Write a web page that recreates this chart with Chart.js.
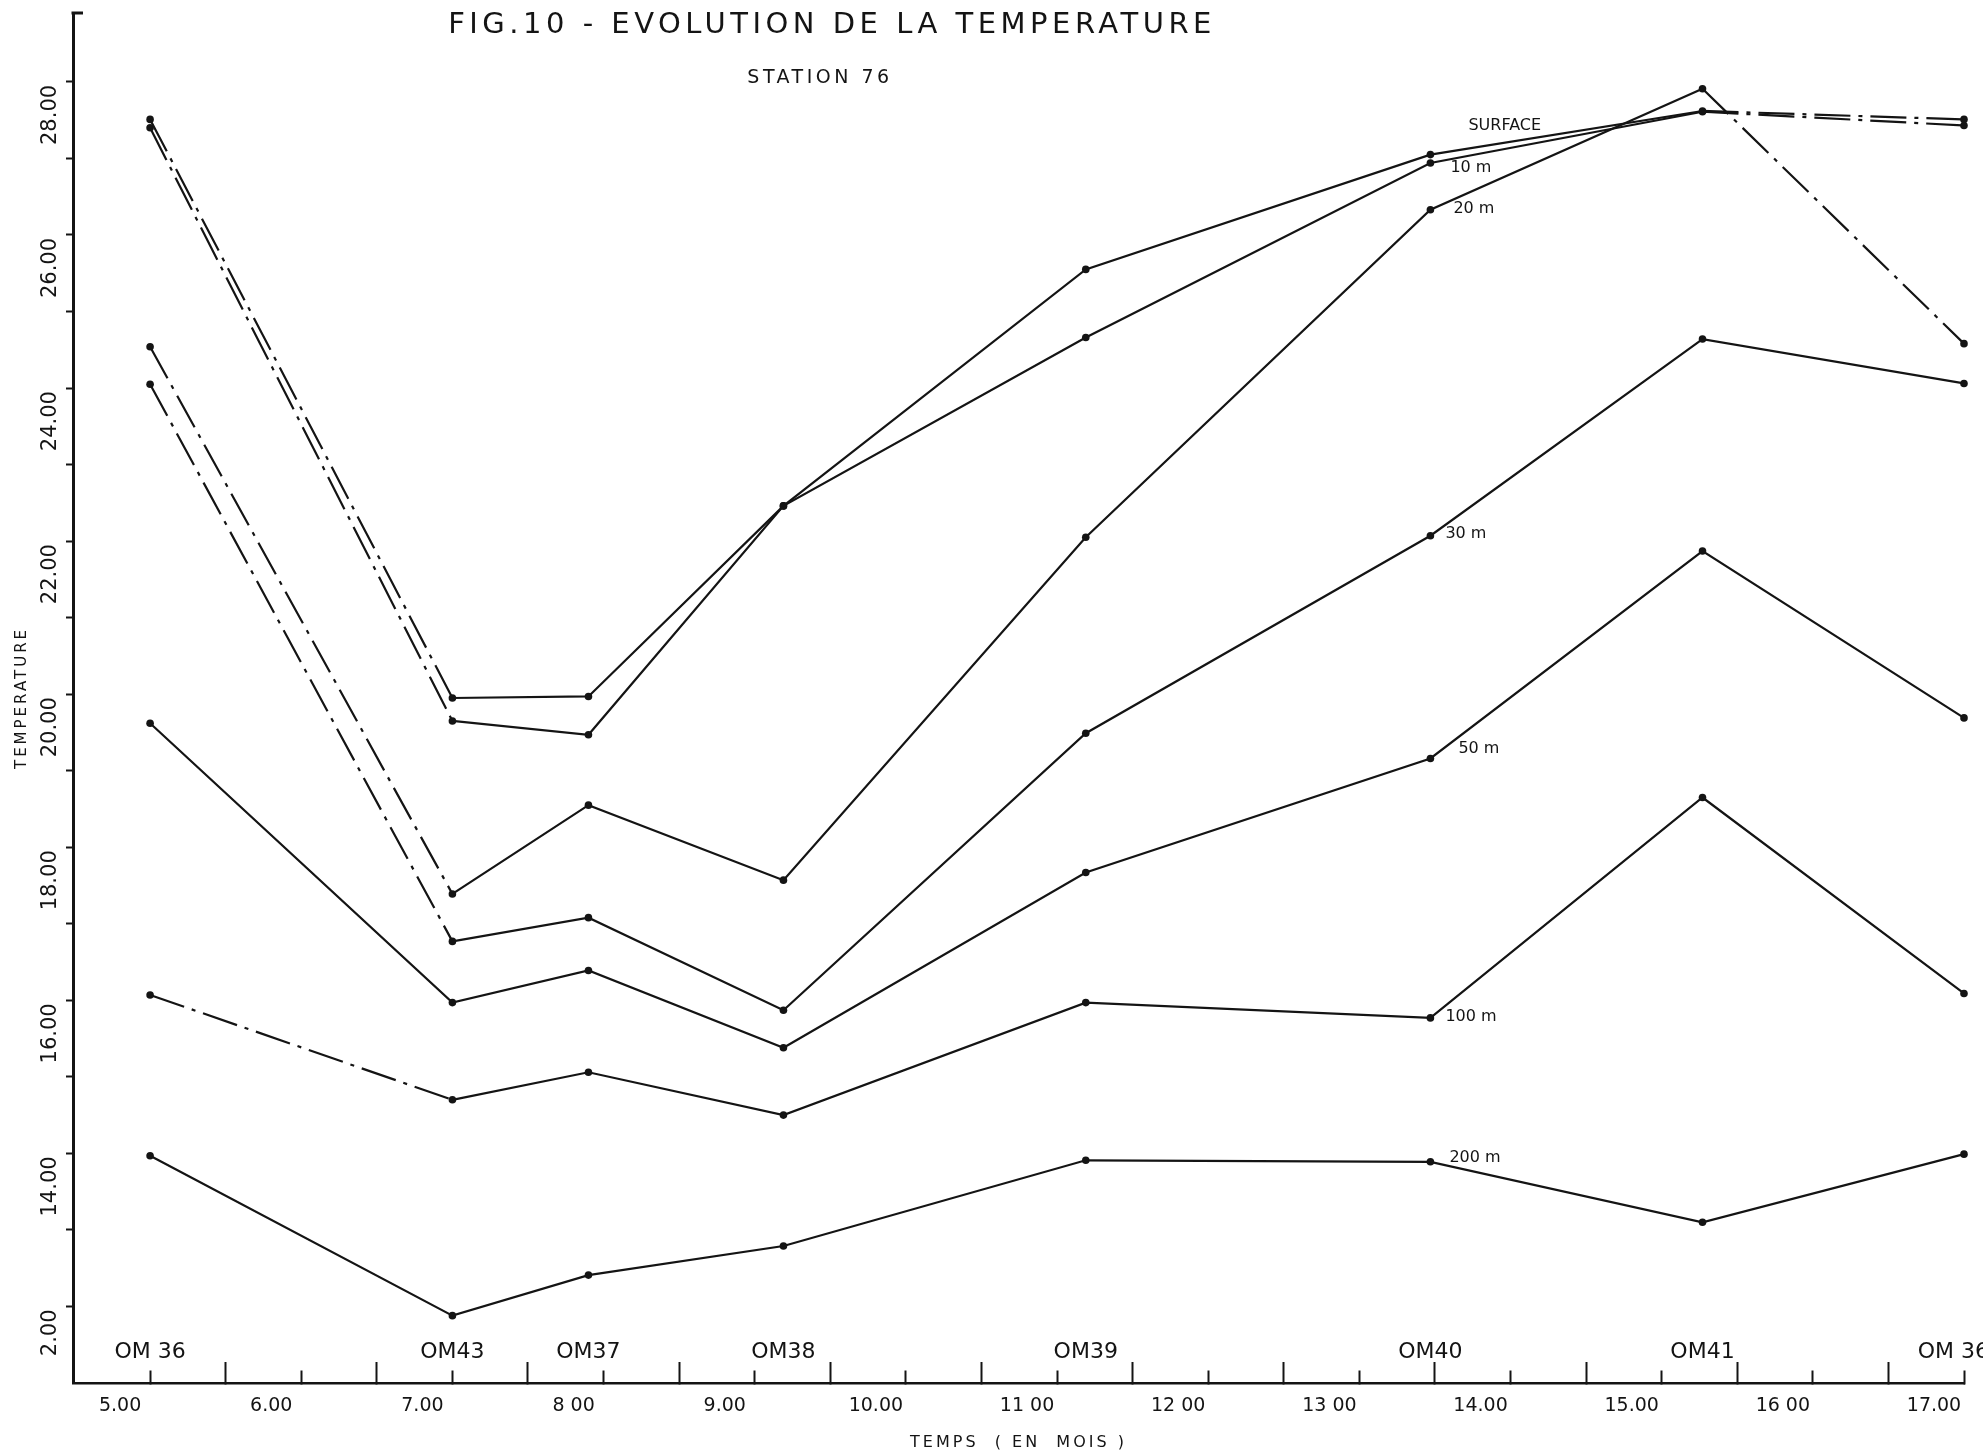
<!DOCTYPE html>
<html>
<head>
<meta charset="utf-8">
<script src="https://cdn.jsdelivr.net/npm/chart.js@4.4.0/dist/chart.umd.min.js"></script>
<style>
html,body{margin:0;padding:0;background:#fff;}
#wrap{position:relative;width:1983px;height:1453px;overflow:hidden;background:#fff;}
canvas{position:absolute;left:0;top:0;}
.t{position:absolute;font-family:"DejaVu Sans",sans-serif;color:#141414;white-space:nowrap;transform:translate(-50%,-50%);}
#title{left:832px;top:23px;font-size:29px;letter-spacing:4.5px;}
#sub{left:820px;top:76px;font-size:19px;letter-spacing:3.5px;}
</style>
</head>
<body>
<div id="wrap">
<canvas id="c" width="1983" height="1453"></canvas>
<div class="t" id="title">FIG.10 - EVOLUTION DE LA TEMPERATURE</div>
<div class="t" id="sub">STATION 76</div>
</div>
<script>
// ---- data ----
const stations = ['OM 36', 'OM43', 'OM37', 'OM38', 'OM39', 'OM40', 'OM41', 'OM 36'];
const stationMonths = [5.0, 7.0, 7.9, 9.19, 11.19, 13.47, 15.27, 17.0];
const depths = ['SURFACE', '10 m', '20 m', '30 m', '50 m', '100 m', '200 m'];
const tSurface = [27.51, 19.95, 19.97, 22.46, 25.55, 27.05, 27.62, 27.51];
const t10m     = [27.40, 19.65, 19.47, 22.46, 24.66, 26.94, 27.61, 27.43];
const t20m     = [24.54, 17.39, 18.55, 17.57, 22.05, 26.33, 27.91, 24.58];
const t30m     = [24.05, 16.77, 17.08, 15.87, 19.49, 22.07, 24.64, 24.06];
const t50m     = [19.62, 15.97, 16.39, 15.38, 17.67, 19.16, 21.87, 19.69];
const t100m    = [16.07, 14.70, 15.06, 14.50, 15.97, 15.77, 18.65, 16.09];
const t200m    = [13.97, 11.88, 12.41, 12.79, 13.91, 13.89, 13.10, 13.99];
const xTickValues = [5, 5.5, 6, 6.5, 7, 7.5, 8, 8.5, 9, 9.5, 10, 10.5, 11, 11.5, 12, 12.5, 13, 13.5, 14, 14.5, 15, 15.5, 16, 16.5, 17];
const xTickLabels = ['5.00', '6.00', '7.00', '8 00', '9.00', '10.00', '11 00', '12 00', '13 00', '14.00', '15.00', '16 00', '17.00'];
const yTickValues = [12, 13, 14, 15, 16, 17, 18, 19, 20, 21, 22, 23, 24, 25, 26, 27, 28];
const yTickLabels = ['2.00', '14.00', '16.00', '18.00', '20.00', '22.00', '24.00', '26.00', '28.00'];

// ---- styling ----
const ink = '#141414';
const seriesValues = [tSurface, t10m, t20m, t30m, t50m, t100m, t200m];
const dashedSegments = [[0, 6], [0, 6], [0, 6], [0], [], [0], []];
const dashPattern = [36, 8, 4, 8];
const labelAnchor = 5; // depth labels sit next to the OM40 points
const labelOffsets = [[38, -29], [20, 5], [23, -1], [15, -2], [28, -10], [15, -1], [19, -4]];

const datasets = seriesValues.map((vals, s) => ({
  label: depths[s],
  data: vals.map((v, i) => ({x: stationMonths[i], y: v})),
  borderColor: ink,
  backgroundColor: ink,
  borderWidth: 2.2,
  pointRadius: 3.8,
  pointBorderWidth: 0,
  pointBackgroundColor: ink,
  tension: 0,
  clip: false,
  segment: {
    borderDash: ctx => dashedSegments[s].includes(ctx.p0DataIndex) ? dashPattern : undefined
  }
}));

const spacedTitles = {
  id: 'spacedTitles',
  beforeDraw(chart) {
    Object.values(chart.scales).forEach(sc => {
      if (sc._spaced) return;
      const orig = sc.drawTitle.bind(sc);
      sc.drawTitle = function () {
        const c = this.ctx;
        c.save();
        c.letterSpacing = '3px';
        orig();
        c.restore();
      };
      sc._spaced = true;
    });
  }
};

const annotations = {
  id: 'annotations',
  afterDraw(chart) {
    const {ctx, chartArea, scales: {x, y}} = chart;
    ctx.save();
    // cap at the top of the y axis
    ctx.strokeStyle = ink;
    ctx.lineWidth = 3;
    ctx.beginPath();
    ctx.moveTo(chartArea.left - 1.5, chartArea.top);
    ctx.lineTo(chartArea.left + 10, chartArea.top);
    ctx.stroke();

    ctx.fillStyle = ink;
    ctx.font = '22px "DejaVu Sans"';
    ctx.textAlign = 'center';
    ctx.textBaseline = 'middle';
    stations.forEach((name, i) => {
      const w = ctx.measureText(name).width;
      let px = x.getPixelForValue(stationMonths[i]);
      px = Math.min(px, chart.width - w / 2 + 6);
      ctx.fillText(name, px, chartArea.bottom - 31);
    });

    ctx.font = '16px "DejaVu Sans"';
    ctx.textAlign = 'left';
    depths.forEach((name, s) => {
      const px = x.getPixelForValue(stationMonths[labelAnchor]) + labelOffsets[s][0];
      const py = y.getPixelForValue(seriesValues[s][labelAnchor]) + labelOffsets[s][1];
      ctx.fillText(name, px, py);
    });
    ctx.restore();
  }
};

new Chart(document.getElementById('c'), {
  type: 'line',
  data: {datasets},
  plugins: [spacedTitles, annotations],
  options: {
    responsive: false,
    devicePixelRatio: 1,
    animation: false,
    layout: {padding: {top: 13, right: 19, bottom: 0, left: 0}},
    plugins: {legend: {display: false}, tooltip: {enabled: false}, title: {display: false}},
    scales: {
      x: {
        type: 'linear',
        position: 'bottom',
        min: 4.49,
        max: 17,
        afterFit: s => { s.height = 70; s.paddingLeft = 0; s.paddingRight = 0; },
        afterBuildTicks: s => { s.ticks = xTickValues.map(v => ({value: v})); },
        border: {display: true, color: ink, width: 2.5},
        grid: {
          display: true,
          drawOnChartArea: false,
          drawTicks: true,
          tickLength: -21,
          tickColor: ink,
          tickWidth: 2,
          tickBorderDash: ctx => Number.isInteger(ctx.tick.value) ? [14, 60] : []
        },
        ticks: {
          autoSkip: false,
          minRotation: 0,
          maxRotation: 0,
          padding: 33,
          labelOffset: -30,
          color: ink,
          font: {family: 'DejaVu Sans', size: 19},
          callback: v => Number.isInteger(v) ? xTickLabels[v - 5] : ''
        },
        title: {
          display: true,
          text: 'TEMPS  ( EN  MOIS )',
          color: ink,
          font: {family: 'DejaVu Sans', size: 16},
          padding: {top: 0, bottom: 1}
        }
      },
      y: {
        type: 'linear',
        position: 'left',
        min: 11,
        max: 28.9,
        afterFit: s => { s.width = 73; s.paddingTop = 0; s.paddingBottom = 0; },
        afterBuildTicks: s => { s.ticks = yTickValues.map(v => ({value: v})); },
        border: {display: true, color: ink, width: 3},
        grid: {
          display: true,
          drawOnChartArea: false,
          drawTicks: true,
          tickLength: 7,
          tickColor: ink,
          tickWidth: 2
        },
        ticks: {
          autoSkip: false,
          minRotation: 90,
          maxRotation: 90,
          padding: 15,
          labelOffset: 3,
          color: ink,
          font: {family: 'DejaVu Sans', size: 21},
          callback: v => (v % 2 === 0) ? yTickLabels[(v - 12) / 2] : ''
        },
        title: {
          display: true,
          text: 'TEMPERATURE',
          color: ink,
          font: {family: 'DejaVu Sans', size: 15},
          padding: {top: 13, bottom: 0}
        }
      }
    }
  }
});
</script>
</body>
</html>
